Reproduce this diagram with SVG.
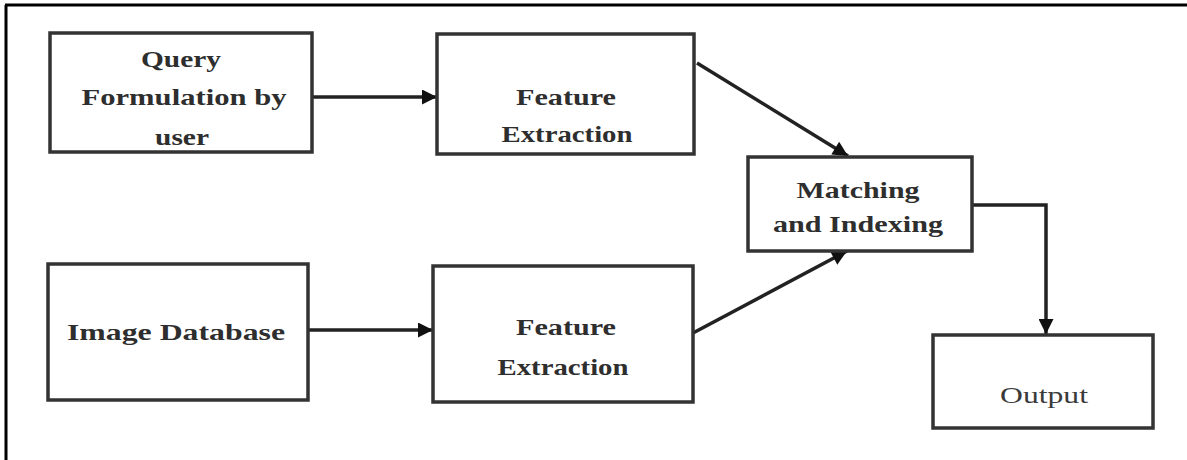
<svg xmlns="http://www.w3.org/2000/svg" width="1187" height="460" viewBox="0 0 1187 460">
<defs>
<style>
.box{fill:#fff;stroke:#333;stroke-width:3.5}
.t{font-family:"Liberation Serif","Times New Roman",serif;font-size:23px;font-weight:bold;fill:#2e2e2e;text-anchor:middle}
.tl{font-family:"Liberation Serif","Times New Roman",serif;font-size:23px;font-weight:normal;fill:#3a3a3a;text-anchor:middle}
.c{fill:none;stroke:#222;stroke-width:3.5}
</style>
<marker id="ah" viewBox="0 0 10 10" refX="10" refY="5" markerWidth="18" markerHeight="15" markerUnits="userSpaceOnUse" orient="auto">
<path d="M0,0 L10,5 L0,10 z" fill="#111"/>
</marker>
</defs>
<rect width="1187" height="460" fill="#fff"/>
<path d="M5,5 H1187 M6,5 V460" stroke="#000" stroke-width="3" fill="none"/>
<g id="connectors">
<path class="c" d="M312,97 H437" marker-end="url(#ah)"/>
<path class="c" d="M697,63 L848,156" marker-end="url(#ah)"/>
<path class="c" d="M693,333 L847,251" marker-end="url(#ah)"/>
<path class="c" d="M972,205 H1046 V334" marker-end="url(#ah)"/>
<path class="c" d="M308,330 H433" marker-end="url(#ah)"/>
</g>
<g id="query">
<rect class="box" x="50" y="33" width="262" height="119"/>
<text class="t" x="181" y="67" textLength="80" lengthAdjust="spacingAndGlyphs">Query</text>
<text class="t" x="184" y="105" textLength="205" lengthAdjust="spacingAndGlyphs">Formulation by</text>
<text class="t" x="182" y="145" textLength="54" lengthAdjust="spacingAndGlyphs">user</text>
</g>
<g id="feature1">
<rect class="box" x="437" y="34" width="257" height="120"/>
<text class="t" x="566" y="105" textLength="100" lengthAdjust="spacingAndGlyphs">Feature</text>
<text class="t" x="567" y="142" textLength="131" lengthAdjust="spacingAndGlyphs">Extraction</text>
</g>
<g id="matching">
<rect class="box" x="748" y="157" width="224" height="94"/>
<text class="t" x="858" y="198" textLength="123" lengthAdjust="spacingAndGlyphs">Matching</text>
<text class="t" x="858" y="232" textLength="170" lengthAdjust="spacingAndGlyphs">and Indexing</text>
</g>
<g id="imagedb">
<rect class="box" x="48" y="264" width="260" height="136"/>
<text class="t" x="176" y="340" textLength="218" lengthAdjust="spacingAndGlyphs">Image Database</text>
</g>
<g id="feature2">
<rect class="box" x="433" y="266" width="260" height="136"/>
<text class="t" x="566" y="335" textLength="100" lengthAdjust="spacingAndGlyphs">Feature</text>
<text class="t" x="563" y="375" textLength="131" lengthAdjust="spacingAndGlyphs">Extraction</text>
</g>
<g id="output">
<rect class="box" x="933" y="335" width="220" height="93"/>
<text class="tl" x="1044" y="403" textLength="88" lengthAdjust="spacingAndGlyphs">Output</text>
</g>
</svg>
